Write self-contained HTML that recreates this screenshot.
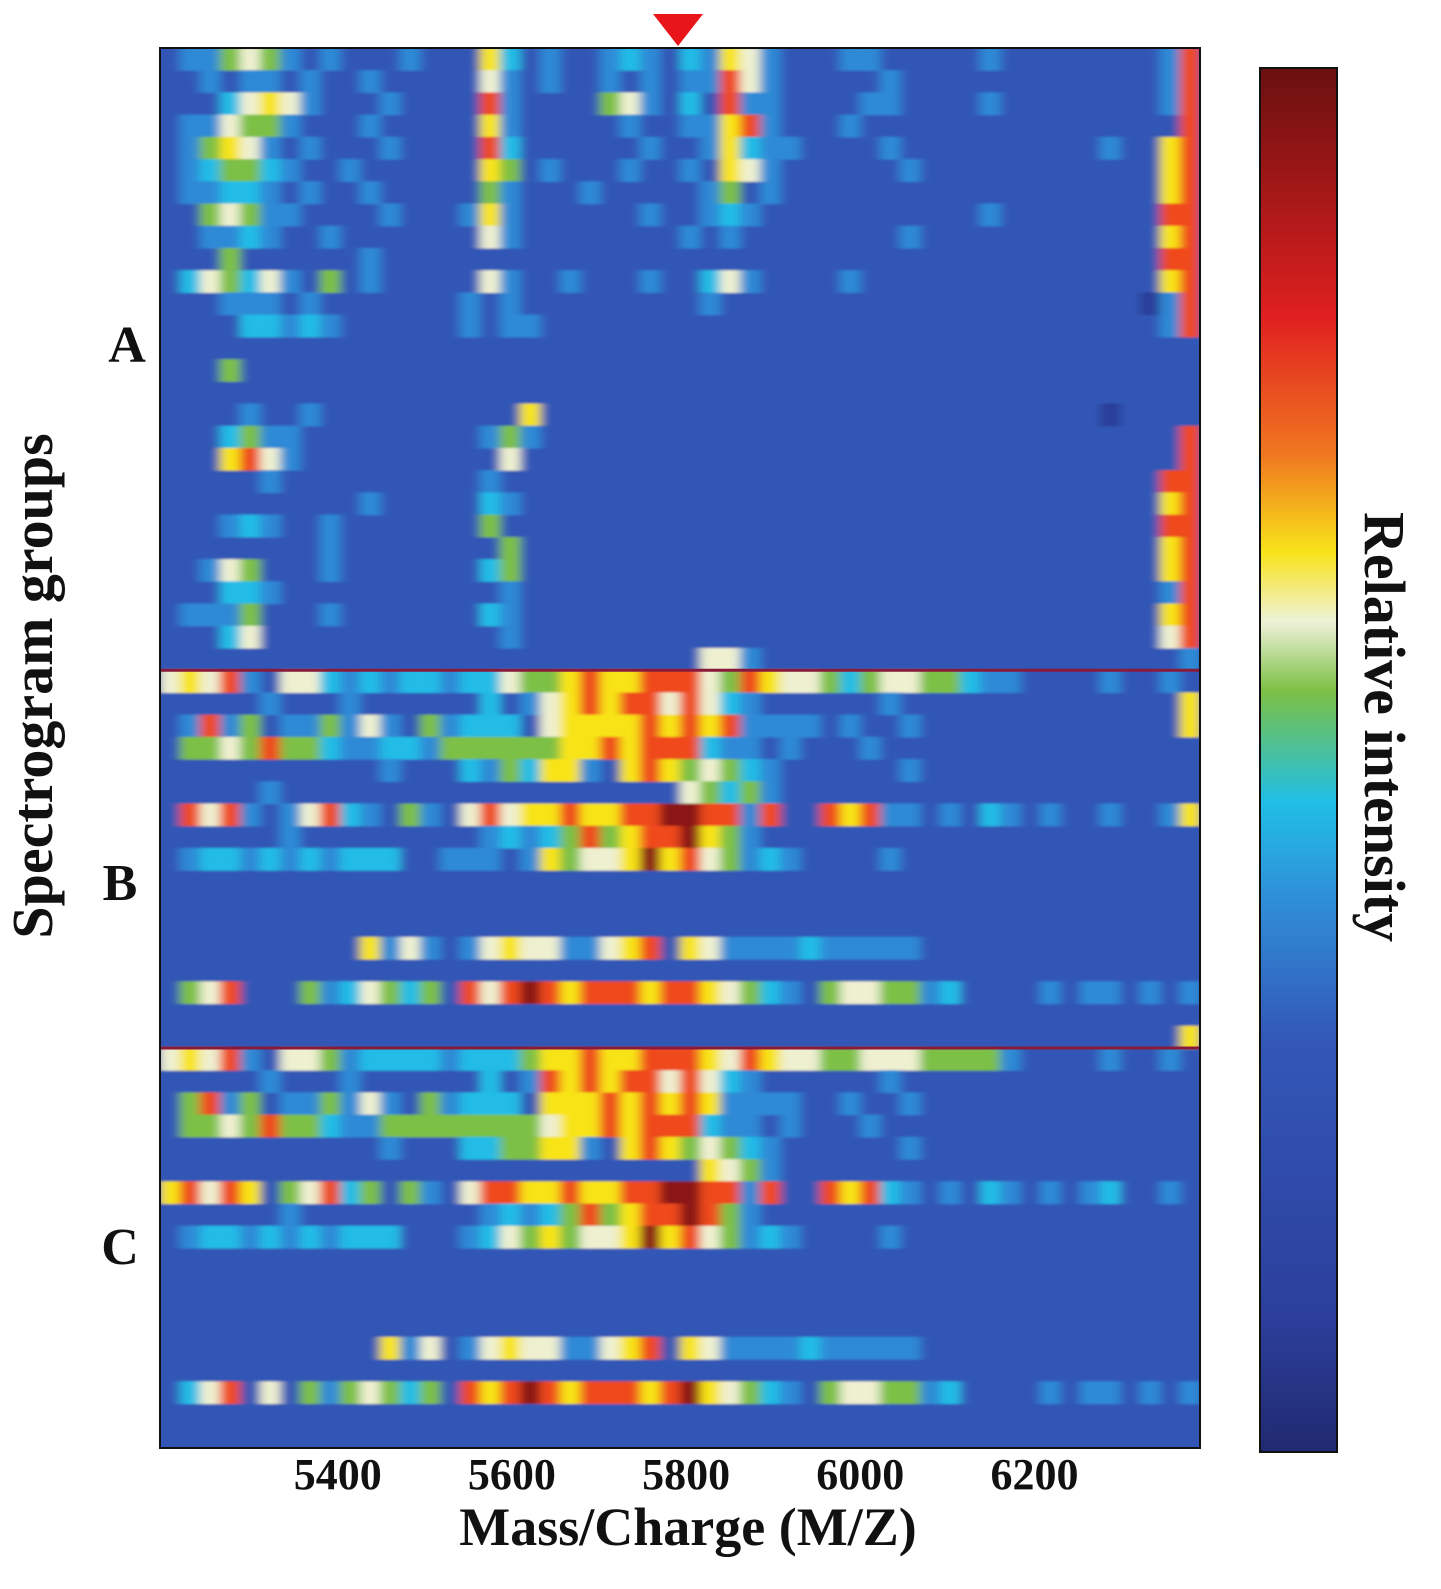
<!DOCTYPE html>
<html><head><meta charset="utf-8">
<style>
html,body{margin:0;padding:0;background:#fff;}
svg{display:block;}
text{font-family:"Liberation Serif",serif;font-weight:bold;fill:#111;}
</style></head>
<body>
<svg id="chart" width="1441" height="1589" viewBox="0 0 1441 1589" xmlns="http://www.w3.org/2000/svg">
  <defs>
    <linearGradient id="cbar" x1="0" y1="1" x2="0" y2="0">
      <stop offset="0" stop-color="#202a70"/>
      <stop offset="0.1" stop-color="#2c3f9c"/>
      <stop offset="0.3" stop-color="#3358b8"/>
      <stop offset="0.4" stop-color="#2f8fd8"/>
      <stop offset="0.47" stop-color="#20bfe6"/>
      <stop offset="0.55" stop-color="#7cc044"/>
      <stop offset="0.6" stop-color="#eef2d8"/>
      <stop offset="0.65" stop-color="#f8e41a"/>
      <stop offset="0.72" stop-color="#f07820"/>
      <stop offset="0.82" stop-color="#e02020"/>
      <stop offset="1" stop-color="#6a1010"/>
    </linearGradient>
    <clipPath id="plotclip"><rect x="160" y="48" width="1040" height="1400"/></clipPath>
    <filter id="soft" x="-5%" y="-5%" width="110%" height="110%"><feGaussianBlur stdDeviation="5 1"/></filter>
  </defs>
  <rect x="160" y="48" width="1040" height="1400" fill="#3356b6"/>
  <g clip-path="url(#plotclip)"><g id="cells" filter="url(#soft)"></g></g>
  <g id="dividers"></g>
  <rect x="160" y="48" width="1040" height="1400" fill="none" stroke="#111" stroke-width="2"/>
  <polygon points="653,14 703,14 678,46" fill="#e8161b"/>
  <rect x="1260" y="68" width="77" height="1384" fill="url(#cbar)" stroke="#111" stroke-width="2"/>
  <text transform="translate(1365,727) rotate(90)" text-anchor="middle" font-size="58">Relative intensity</text>
  <text transform="translate(52,686) rotate(-90)" text-anchor="middle" font-size="58">Spectrogram groups</text>
  <text x="127" y="362" text-anchor="middle" font-size="52">A</text>
  <text x="120" y="900" text-anchor="middle" font-size="52">B</text>
  <text x="120" y="1264" text-anchor="middle" font-size="52">C</text>
  <g id="xticks"></g>
  <text x="688" y="1545" text-anchor="middle" font-size="54">Mass/Charge (M/Z)</text>
</svg>
<script>
const xTicks = [5400, 5600, 5800, 6000, 6200];
const groupSizes = [28, 17, 18];
const rowsA = [
"2335653232223"+"2227423223432"+"4376322233222"+"2232222222238",
"2232332322322"+"2226323223232"+"3386322222322"+"2222222222238",
"2224676322232"+"2228322225632"+"4283322223322"+"2232222222238",
"2336553222322"+"2227322222322"+"3378322232222"+"2222222222228",
"2357632322232"+"2228422222232"+"2374332222322"+"2222222232278",
"2345543223222"+"2227523222322"+"3276322222232"+"2222222222278",
"2334432322322"+"2225322232222"+"2352322222222"+"2222222222278",
"2256533222232"+"2237322222232"+"2343222222222"+"2232222222288",
"2233432232222"+"2226322222222"+"3232222222232"+"2222222222278",
"2225222222322"+"2222222222222"+"2222222222222"+"2222222222288",
"2465463252322"+"2226322322232"+"2463222232222"+"2222222222278",
"2223332322222"+"2232322222222"+"2322222222222"+"2222222222138",
"2222443432222"+"2232332222222"+"2222222222222"+"2222222222238",
"2222222222222"+"2222222222222"+"2222222222222"+"2222222222222",
"2225222222222"+"2222222222222"+"2222222222222"+"2222222222222",
"2222222222222"+"2222222222222"+"2222222222222"+"2222222222222",
"2222322322222"+"2222272222222"+"2222222222222"+"2222222212222",
"2224533222222"+"2223532222222"+"2222222222222"+"2222222222228",
"2227863222222"+"2222622222222"+"2222222222222"+"2222222222228",
"2222232222222"+"2223222222222"+"2222222222222"+"2222222222288",
"2222222222322"+"2224322222222"+"2222222222222"+"2222222222278",
"2223432232222"+"2225222222222"+"2222222222222"+"2222222222288",
"2222222232222"+"2222522222222"+"2222222222222"+"2222222222278",
"2236522232222"+"2224522222222"+"2222222222222"+"2222222222278",
"2224432222222"+"2222322222222"+"2222222222222"+"2222222222238",
"2333522232222"+"2224322222222"+"2222222222222"+"2222222222278",
"2224622222222"+"2222322222222"+"2222222222222"+"2222222222268",
"2222222222222"+"2222222222222"+"2663222222222"+"2222222222223"
];
const rowsB = [
"6768326643434"+"4344655787788"+"8658766545665"+"5433222232232",
"2222232223222"+"2224236787886"+"8643222222322"+"2222222222227",
"2383523353632"+"5344426777787"+"8783333232232"+"2222222222227",
"2556585543344"+"3555555778788"+"8433232223222"+"2222222222222",
"2222222222232"+"2243547732787"+"5654322222232"+"2222222222222",
"2222232222222"+"2222222222222"+"6545322222222"+"2222222222222",
"2868323684325"+"3268677877889"+"9883822878332"+"3243232232237",
"2222223222222"+"2223434585788"+"9753222222222"+"2222222222222",
"2344343434442"+"2333237566797"+"8653432222322"+"2222222222222",
"2222222222222"+"2222222222222"+"2222222222222"+"2222222222222",
"2222222222222"+"2222222222222"+"2222222222222"+"2222222222222",
"2222222222222"+"2222222222222"+"2222222222222"+"2222222222222",
"2222222222736"+"3236766336782"+"7633334333332"+"2222222222222",
"2222222222222"+"2222222222222"+"2222222222222"+"2222222222222",
"2568222534654"+"5286898788878"+"8765432566553"+"4222232332323",
"2222222222222"+"2222222222222"+"2222222222222"+"2222222222222",
"2222222222222"+"2222222222222"+"2222222222222"+"2222222222227"
];
const rowsC = [
"6768326653444"+"4344457787788"+"8768766556665"+"5553222232232",
"2222232223222"+"2224238787886"+"8643222222322"+"2222222222222",
"2583523353632"+"5344427778787"+"8733332232232"+"2222222222222",
"2556585543355"+"5555556778788"+"8433232223222"+"2222222222222",
"2222222222232"+"2244557732787"+"5654322222232"+"2222222222222",
"2222222222222"+"2222222222222"+"2765322222222"+"2222222222222",
"7868725684525"+"3268877877889"+"9883822878432"+"3243232342232",
"2222223222222"+"2223434585788"+"9853222222222"+"2222222222222",
"2344343434442"+"2234657566797"+"8653432222322"+"2222222222222",
"2222222222222"+"2222222222222"+"2222222222222"+"2222222222222",
"2222222222222"+"2222222222222"+"2222222222222"+"2222222222222",
"2222222222222"+"2222222222222"+"2222222222222"+"2222222222222",
"2222222222222"+"2222222222222"+"2222222222222"+"2222222222222",
"2222222222273"+"6236766336782"+"7633334333332"+"2222222222222",
"2222222222222"+"2222222222222"+"2222222222222"+"2222222222222",
"2468262535654"+"5287898788878"+"9765432566553"+"4222232332323",
"2222222222222"+"2222222222222"+"2222222222222"+"2222222222222",
"2222222222222"+"2222222222222"+"2222222222222"+"2222222222222"
];
const palette = ["#202a70","#2a3c98","#3356b6","#2f8ad6","#22bce6","#7cc044","#eef0d0","#f8e418","#ef4a1e","#8a1212"];

const PX0=160, PX1=1200, PY0=48, PY1=1448, MZ0=5196, MZ1=6390;
function xScale(mz){return PX0+(mz-MZ0)/(MZ1-MZ0)*(PX1-PX0);}
const allRows = rowsA.concat(rowsB, rowsC);
const nRows = allRows.length;
const nCols = allRows[0].length;
function yScale(r){return PY0 + r*(PY1-PY0)/nRows;}
function colX(c){return PX0 + c*(PX1-PX0)/nCols;}
const NS="http://www.w3.org/2000/svg";
const g=document.getElementById('cells');
const bg=document.createElementNS(NS,'rect');
bg.setAttribute('x',PX0-20);bg.setAttribute('y',PY0-5);bg.setAttribute('width',PX1-PX0+40);bg.setAttribute('height',PY1-PY0+10);bg.setAttribute('fill',palette[2]);


g.appendChild(bg);
allRows.forEach((row,r)=>{
  for(let c=0;c<nCols;c++){
    const v=+row[c];
    if(v===2) continue;
    const rect=document.createElementNS(NS,'rect');
    const x=colX(c), y=yScale(r);
    rect.setAttribute('x',x);rect.setAttribute('y',y);
    rect.setAttribute('width',colX(c+1)-x+0.5);rect.setAttribute('height',yScale(r+1)-y+0.5);
    rect.setAttribute('fill',palette[v]);
    
    
    g.appendChild(rect);
  }
});
const dv=document.getElementById('dividers');
let acc=0;
groupSizes.slice(0,-1).forEach((s)=>{
  acc+=s;
  const l=document.createElementNS(NS,'line');
  l.setAttribute('x1',PX0);l.setAttribute('x2',PX1);l.setAttribute('y1',yScale(acc));l.setAttribute('y2',yScale(acc));
  l.setAttribute('stroke','#8a1a3a');l.setAttribute('stroke-width','3');
  
  
  dv.appendChild(l);
});
const xt=document.getElementById('xticks');
xTicks.forEach(t=>{
  const tx=document.createElementNS(NS,'text');
  tx.setAttribute('x',xScale(t));tx.setAttribute('y',1489);
  tx.setAttribute('text-anchor','middle');tx.setAttribute('font-size','44');
  tx.textContent=t;
  
  
  xt.appendChild(tx);
});
</script>
</body></html>
